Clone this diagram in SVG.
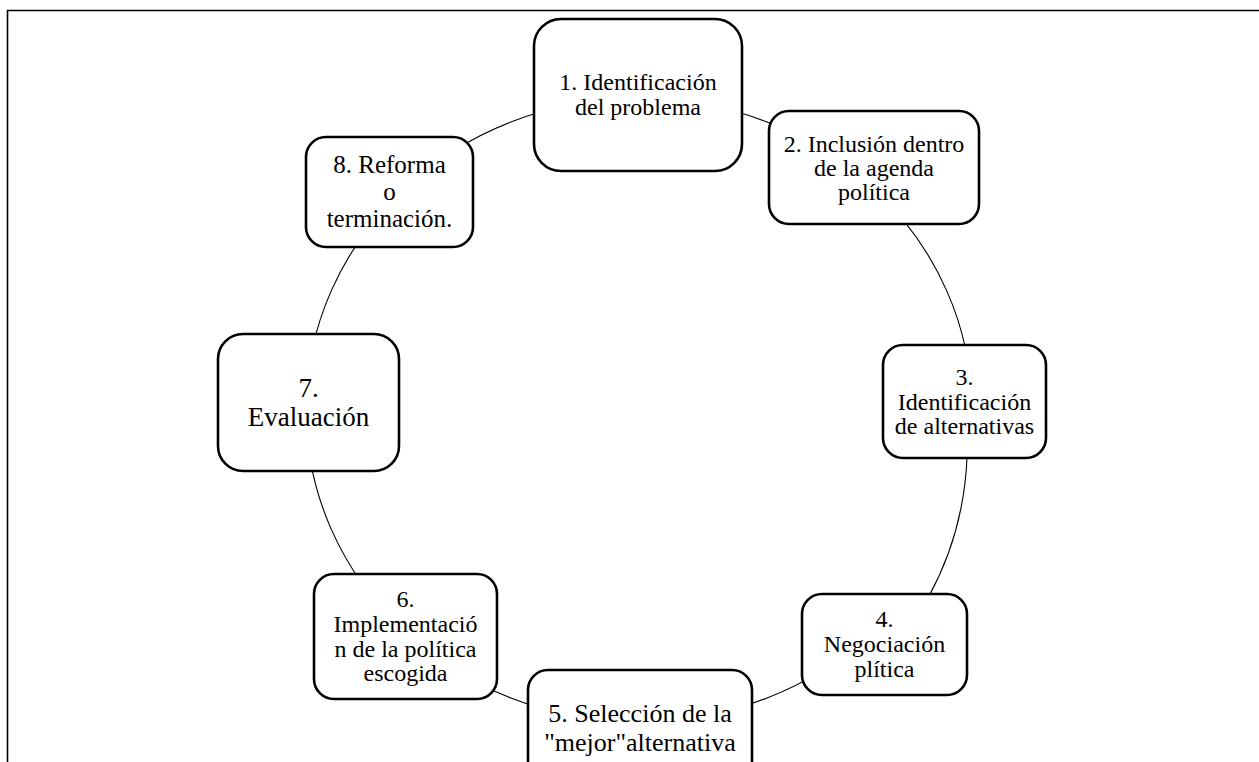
<svg xmlns="http://www.w3.org/2000/svg" width="1259" height="762" viewBox="0 0 1259 762">
<style>
.box{fill:#fff;stroke:#000;stroke-width:2.6}
.conn{fill:none;stroke:#000;stroke-width:1.1}
.frame{fill:none;stroke:#000;stroke-width:1.6}
.t{font-size:24px}
.t5{font-size:26px}
.t7{font-size:27px}
.t8{font-size:25px}
</style>
<rect width="1259" height="762" fill="#fff"/>
<path class="frame" d="M7.5 762 V10.5 H1259"/>
<g id="connectors">
<path class="conn" d="M639 98 A333 312 0 0 1 874.5 189.4"/>
<path class="conn" d="M874.5 189.4 A333 312 0 0 1 972 410"/>
<path class="conn" d="M967 458 C965 505 953 552 929 596"/>
<path class="conn" d="M874.5 630.6 A333 312 0 0 1 639 722"/>
<path class="conn" d="M639 722 A333 312 0 0 1 403.5 630.6"/>
<path class="conn" d="M403.5 630.6 A333 312 0 0 1 306 410"/>
<path class="conn" d="M306 410 A333 312 0 0 1 403.5 189.4"/>
<path class="conn" d="M403.5 189.4 A333 312 0 0 1 639 98"/>
</g>
<g font-family="Liberation Serif, Times New Roman, DejaVu Serif, serif" text-anchor="middle" fill="#000">
<g id="node1">
<rect class="box" x="534" y="19" width="208" height="152" rx="27"/>
<text class="t" x="638" y="90">1. Identificación</text>
<text class="t" x="638" y="115">del problema</text>
</g>
<g id="node2">
<rect class="box" x="769" y="111" width="210" height="113" rx="20"/>
<text class="t" x="874" y="152">2. Inclusión dentro</text>
<text class="t" x="874" y="176">de la agenda</text>
<text class="t" x="874" y="200">política</text>
</g>
<g id="node3">
<rect class="box" x="883" y="345" width="163" height="113" rx="20"/>
<text class="t" x="964.5" y="385">3.</text>
<text class="t" x="964.5" y="410">Identificación</text>
<text class="t" x="964.5" y="434">de alternativas</text>
</g>
<g id="node4">
<rect class="box" x="802" y="594" width="165" height="101" rx="20"/>
<text class="t" x="884.5" y="627">4.</text>
<text class="t" x="884.5" y="652">Negociación</text>
<text class="t" x="884.5" y="677">plítica</text>
</g>
<g id="node5">
<rect class="box" x="528" y="670" width="224" height="118" rx="20"/>
<text class="t5" x="640" y="722">5. Selección de la</text>
<text class="t5" x="640" y="751">"mejor"alternativa</text>
</g>
<g id="node6">
<rect class="box" x="314" y="574" width="183" height="125" rx="20"/>
<text class="t" x="405.5" y="607">6.</text>
<text class="t" x="405.5" y="632">Implementació</text>
<text class="t" x="405.5" y="657">n de la política</text>
<text class="t" x="405.5" y="681">escogida</text>
</g>
<g id="node7">
<rect class="box" x="218" y="334" width="181" height="137" rx="25"/>
<text class="t7" x="308.5" y="397">7.</text>
<text class="t7" x="308.5" y="425.5">Evaluación</text>
</g>
<g id="node8">
<rect class="box" x="306" y="137" width="167" height="110" rx="20"/>
<text class="t8" x="389.5" y="173">8. Reforma</text>
<text class="t8" x="389.5" y="200">o</text>
<text class="t8" x="389.5" y="227">terminación.</text>
</g>
</g>
</svg>
